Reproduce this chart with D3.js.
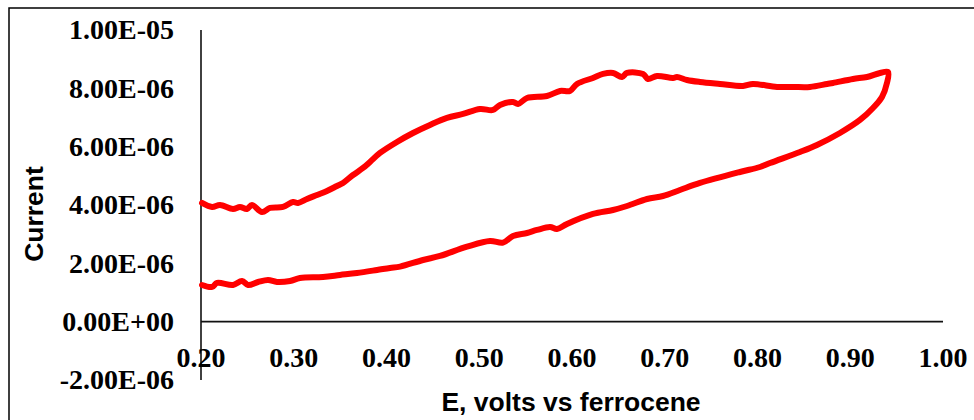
<!DOCTYPE html>
<html>
<head>
<meta charset="utf-8">
<script src="https://cdn.jsdelivr.net/npm/d3@7"></script>
<style>
  html, body { margin: 0; padding: 0; background: #fff; }
  svg { display: block; }
</style>
</head>
<body>
<svg id="chart" width="974" height="420"></svg>
<script>
// Potential (V vs ferrocene), forward scan then reverse scan
const potential = [
  0.2011, 0.2119, 0.2173, 0.2345, 0.2442, 0.2507, 0.2615, 0.2723, 0.2819, 0.2960,
  0.3067, 0.3315, 0.3499, 0.3682, 0.3898, 0.4038, 0.4146, 0.4394, 0.4577, 0.4868,
  0.5116, 0.5256, 0.5364, 0.5515, 0.5623, 0.5763, 0.5838, 0.5946, 0.6226, 0.6442,
  0.6593, 0.6809, 0.6981, 0.7164, 0.7380, 0.7811, 0.8027, 0.8135, 0.8458, 0.8641,
  0.8889, 0.9105, 0.9245, 0.9342, 0.9396, 0.9407,
  0.9321, 0.9181, 0.9030, 0.8814, 0.8750, 0.8566, 0.8383, 0.8210, 0.7951, 0.7844,
  0.7596, 0.7380, 0.7240, 0.7132, 0.7089, 0.6917, 0.6819, 0.6766, 0.6593, 0.6539,
  0.6442, 0.6334, 0.6226, 0.6054, 0.5978, 0.5871, 0.5730, 0.5515, 0.5418, 0.5364,
  0.5224, 0.5148, 0.5008, 0.4825, 0.4652, 0.4469, 0.4286, 0.4113, 0.3930, 0.3822,
  0.3747, 0.3639, 0.3531, 0.3466, 0.3358, 0.3251, 0.3143, 0.3046, 0.2992, 0.2884,
  0.2744, 0.2658, 0.2550, 0.2496, 0.2420, 0.2345, 0.2205, 0.2119, 0.2011
];
// Current (A)
const current = [
  1.258, 1.190, 1.327, 1.258, 1.395, 1.258, 1.361, 1.430, 1.361, 1.395,
  1.498, 1.532, 1.601, 1.670, 1.772, 1.841, 1.886, 2.115, 2.252, 2.571,
  2.767, 2.708, 2.938, 3.041, 3.144, 3.246, 3.178, 3.349, 3.692, 3.829,
  3.966, 4.206, 4.309, 4.514, 4.755, 5.132, 5.303, 5.440, 5.818, 6.058,
  6.469, 6.915, 7.326, 7.704, 8.184, 8.561,
  8.527, 8.390, 8.322, 8.184, 8.150, 8.047, 8.047, 8.047, 8.150, 8.081,
  8.150, 8.218, 8.287, 8.390, 8.356, 8.424, 8.321, 8.493, 8.527, 8.390,
  8.527, 8.493, 8.356, 8.150, 7.910, 7.910, 7.738, 7.669, 7.463, 7.532,
  7.429, 7.258, 7.292, 7.121, 6.984, 6.744, 6.469, 6.161, 5.784, 5.475,
  5.269, 5.029, 4.755, 4.652, 4.481, 4.344, 4.207, 4.070, 4.104, 3.932,
  3.898, 3.761, 4.001, 3.864, 3.932, 3.864, 4.001, 3.932, 4.069
].map(v => v * 1e-6);

const xTicks = [0.2, 0.3, 0.4, 0.5, 0.6, 0.7, 0.8, 0.9, 1.0];
const yTicks = [-2e-6, 0, 2e-6, 4e-6, 6e-6, 8e-6, 1e-5];
const xTitle = "E, volts vs ferrocene";
const yTitle = "Current";

const svg = d3.select("#chart");

// outer frame
svg.append("rect")
  .attr("x", 9).attr("y", 8).attr("width", 1100).attr("height", 600)
  .attr("fill", "none").attr("stroke", "#000").attr("stroke-width", 1.5);

const x = d3.scaleLinear().domain([0.2, 1.0]).range([201, 943]);
const y = d3.scaleLinear().domain([-2e-6, 1e-5]).range([380, 30]);

// axes lines
svg.append("line")
  .attr("x1", x(0.2)).attr("x2", x(0.2))
  .attr("y1", y(-2e-6)).attr("y2", y(1e-5))
  .attr("stroke", "#111").attr("stroke-width", 1.6);
svg.append("line")
  .attr("x1", x(0.2)).attr("x2", x(1.0))
  .attr("y1", y(0)).attr("y2", y(0))
  .attr("stroke", "#111").attr("stroke-width", 1.6);

// data line
const pts = potential.map((p, i) => [p, current[i]]);
svg.append("path")
  .datum(pts)
  .attr("fill", "none")
  .attr("stroke", "#ff0000")
  .attr("stroke-width", 6)
  .attr("stroke-linejoin", "round")
  .attr("stroke-linecap", "round")
  .attr("d", d3.line().x(d => x(d[0])).y(d => y(d[1])).curve(d3.curveCatmullRom.alpha(0.5)));

// tick labels
const yFmt = v => {
  if (v === 0) return "0.00E+00";
  const e = Math.floor(Math.log10(Math.abs(v)) + 1e-9);
  const m = v / Math.pow(10, e);
  const sign = e < 0 ? "-" : "+";
  return m.toFixed(2) + "E" + sign + String(Math.abs(e)).padStart(2, "0");
};

svg.append("g").selectAll("text")
  .data(yTicks).join("text")
  .attr("x", 174)
  .attr("y", d => y(d))
  .attr("dy", "0.33em")
  .attr("text-anchor", "end")
  .attr("font-family", "'Liberation Serif', 'Times New Roman', serif")
  .attr("font-weight", "bold")
  .attr("font-size", 28)
  .attr("fill", "#000")
  .text(yFmt);

svg.append("g").selectAll("text")
  .data(xTicks).join("text")
  .attr("x", d => x(d))
  .attr("y", 367)
  .attr("text-anchor", "middle")
  .attr("font-family", "'Liberation Serif', 'Times New Roman', serif")
  .attr("font-weight", "bold")
  .attr("font-size", 28)
  .attr("fill", "#000")
  .text(d => d.toFixed(2));

// axis titles
svg.append("text")
  .attr("x", 571).attr("y", 411)
  .attr("text-anchor", "middle")
  .attr("font-family", "'Liberation Sans', Arial, sans-serif")
  .attr("font-weight", "bold")
  .attr("font-size", 26.5)
  .attr("fill", "#000")
  .text(xTitle);

svg.append("text")
  .attr("transform", "translate(43,214) rotate(-90)")
  .attr("text-anchor", "middle")
  .attr("font-family", "'Liberation Sans', Arial, sans-serif")
  .attr("font-weight", "bold")
  .attr("font-size", 26.5)
  .attr("fill", "#000")
  .text(yTitle);
</script>
</body>
</html>
